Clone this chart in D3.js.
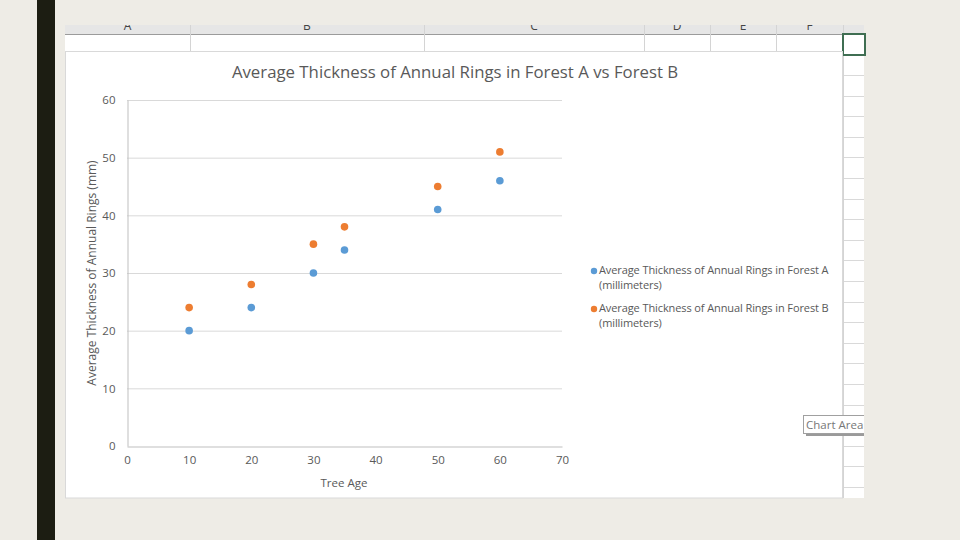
<!DOCTYPE html>
<html>
<head>
<meta charset="utf-8">
<script src="https://cdn.jsdelivr.net/npm/d3@7"></script>
<style>
  html, body { margin: 0; padding: 0; background: #eeece6; }
  svg { display: block; }
  text { font-family: "Open Sans", "Noto Sans", sans-serif; }
</style>
</head>
<body>
<svg id="chart" width="960" height="540"></svg>
<script>
'use strict';

// chart data
var treeAge = [10, 20, 30, 35, 50, 60];
var forestA = [20, 24, 30, 34, 41, 46];
var forestB = [24, 28, 35, 38, 45, 51];
var xTicks = [0, 10, 20, 30, 40, 50, 60, 70];
var yTicks = [0, 10, 20, 30, 40, 50, 60];
var seriesNames = [
    ['Average Thickness of Annual Rings in Forest A', '(millimeters)'],
    ['Average Thickness of Annual Rings in Forest B', '(millimeters)']
];
var seriesColors = ['#5b9bd5', '#ed7d31'];
var columnLetters = ['A', 'B', 'C', 'D', 'E', 'F'];
var chartTitle = 'Average Thickness of Annual Rings in Forest A vs Forest B';

var svg = d3.select('#chart');

// dark bar on the slide
svg.append('rect').attr('x', 37).attr('y', 0).attr('width', 18).attr('height', 540).attr('fill', '#1c1d12');

// spreadsheet behind the chart
var sheet = svg.append('g');
sheet.append('rect').attr('x', 65).attr('y', 25).attr('width', 799).attr('height', 473).attr('fill', '#ffffff');
// column header strip
sheet.append('rect').attr('x', 65).attr('y', 25).attr('width', 799).attr('height', 9).attr('fill', '#e6e6e6');
sheet.append('line').attr('x1', 65).attr('x2', 864).attr('y1', 34.5).attr('y2', 34.5).attr('stroke', '#9b9b9b');

var colEdges = [65, 190, 424, 644, 710, 776, 843];
var clip = svg.append('clipPath').attr('id', 'hdrclip');
clip.append('rect').attr('x', 65).attr('y', 25).attr('width', 799).attr('height', 9);

colEdges.slice(1).forEach(function(x) {
    sheet.append('line').attr('x1', x + 0.5).attr('x2', x + 0.5).attr('y1', 25).attr('y2', 51)
        .attr('stroke', '#d4d4d4');
});
sheet.append('g').attr('clip-path', 'url(#hdrclip)')
    .selectAll('text').data(columnLetters).enter().append('text')
    .attr('x', function(d, i) { return (colEdges[i] + colEdges[i + 1]) / 2; })
    .attr('y', 29.5)
    .attr('text-anchor', 'middle')
    .attr('font-size', 12)
    .attr('fill', '#444')
    .text(function(d) { return d; });
sheet.append('line').attr('x1', 65).attr('x2', 843).attr('y1', 51.5).attr('y2', 51.5).attr('stroke', '#d4d4d4');

// right hand column rows
var rowLines = d3.range(0, 21).map(function(i) { return 75 + i * 20.6; });
sheet.selectAll('.row').data(rowLines).enter().append('line')
    .attr('x1', 843).attr('x2', 864)
    .attr('y1', function(d) { return Math.round(d) + 0.5; })
    .attr('y2', function(d) { return Math.round(d) + 0.5; })
    .attr('stroke', '#d9d9d9');
sheet.append('line').attr('x1', 843.5).attr('x2', 843.5).attr('y1', 51).attr('y2', 498).attr('stroke', '#d4d4d4');
// selected cell
sheet.append('rect').attr('x', 843).attr('y', 34).attr('width', 22).attr('height', 21)
    .attr('fill', 'none').attr('stroke', '#3f6e52').attr('stroke-width', 2);

// chart area
svg.append('rect').attr('x', 65.5).attr('y', 51.5).attr('width', 777).attr('height', 446.5)
    .attr('fill', '#ffffff').attr('stroke', '#d9d9d9');

var x = d3.scaleLinear().domain([0, 70]).range([127, 562]);
var y = d3.scaleLinear().domain([0, 60]).range([446, 100]);

// gridlines
svg.append('g').selectAll('line').data(yTicks.slice(1)).enter().append('line')
    .attr('x1', x(0)).attr('x2', x(70))
    .attr('y1', function(d) { return y(d) + 0.5; })
    .attr('y2', function(d) { return y(d) + 0.5; })
    .attr('stroke', '#d9d9d9');

// axes
var yAxis = svg.append('g').attr('transform', 'translate(' + (x(0) + 0.5) + ',0)')
    .call(d3.axisLeft(y).tickValues(yTicks).tickSize(0).tickPadding(12));
var xAxis = svg.append('g').attr('transform', 'translate(0,' + (y(0) + 0.5) + ')')
    .call(d3.axisBottom(x).tickValues(xTicks).tickSize(0).tickPadding(9));
[xAxis, yAxis].forEach(function(a) {
    a.select('.domain').attr('stroke', '#bfbfbf');
    a.selectAll('text').attr('font-size', 11.5).attr('fill', '#595959')
        .attr('font-family', '"Open Sans", "Noto Sans", sans-serif');
});

// points
var seriesData = [forestA, forestB];
seriesData.forEach(function(vals, s) {
    svg.append('g').selectAll('circle').data(vals).enter().append('circle')
        .attr('cx', function(d, i) { return x(treeAge[i]); })
        .attr('cy', function(d) { return y(d); })
        .attr('r', 3.8)
        .attr('fill', seriesColors[s]);
});

// title
svg.append('text').attr('x', 455).attr('y', 78).attr('text-anchor', 'middle')
    .attr('font-size', 16.8).attr('fill', '#595959').text(chartTitle);

// axis titles
svg.append('text').attr('x', 344).attr('y', 487).attr('text-anchor', 'middle')
    .attr('font-size', 11.5).attr('fill', '#595959').text('Tree Age');
svg.append('text').attr('transform', 'translate(96,273) rotate(-90)').attr('text-anchor', 'middle')
    .attr('font-size', 12).attr('fill', '#595959').text('Average Thickness of Annual Rings (mm)');

// legend
var legend = svg.append('g').selectAll('g').data(seriesNames).enter().append('g')
    .attr('transform', function(d, i) { return 'translate(594,' + (270 + i * 38) + ')'; });
legend.append('circle').attr('r', 3.2).attr('cx', 0).attr('cy', 1)
    .attr('fill', function(d, i) { return seriesColors[i]; });
legend.selectAll('text').data(function(d) { return d; }).enter().append('text')
    .attr('x', 5).attr('y', function(d, i) { return 3.5 + i * 15; })
    .attr('font-size', 11).attr('fill', '#595959').attr('letter-spacing', -0.1)
    .text(function(d) { return d; });

// tooltip
var tip = svg.append('g');
tip.append('rect').attr('x', 806).attr('y', 418).attr('width', 60).attr('height', 18).attr('fill', '#9a9a9a');
tip.append('rect').attr('x', 803.5).attr('y', 415.5).attr('width', 62).attr('height', 18)
    .attr('fill', '#ffffff').attr('stroke', '#a0a0a0');
tip.append('text').attr('x', 806).attr('y', 429).attr('font-size', 11.5).attr('fill', '#777')
    .text('Chart Area');
// clip the tooltip at the sheet edge
svg.append('rect').attr('x', 864).attr('y', 400).attr('width', 20).attr('height', 50).attr('fill', '#eeece6');
</script>
</body>
</html>
